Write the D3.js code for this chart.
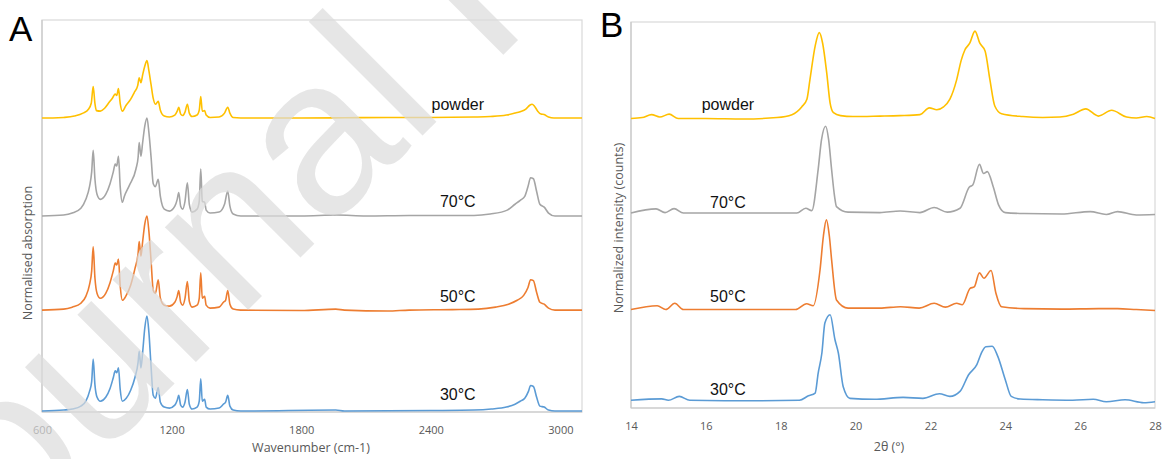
<!DOCTYPE html>
<html><head><meta charset="utf-8">
<script src="https://cdn.jsdelivr.net/npm/d3@7"></script>
<style>body{margin:0;background:#fff;overflow:hidden}</style>
</head><body><svg id="c" width="1163" height="459"></svg>
<script>
// ---------- DATA ----------
const seriesNames = ["powder", "70°C", "50°C", "30°C"];
const seriesColors = ["#FFC000", "#A5A5A5", "#ED7D31", "#5B9BD5"];

// Panel A: FTIR, [wavenumber cm-1, normalised absorption]
const offsetsA = [3, 2, 1.04, 0.01];
const ftirPowder = [[600,0],[650,0],[700,0.005],[750,0.02],[790,0.05],[815,0.09],[828,0.15],[837,0.32],[845,0.15],[852,0.075],[870,0.07],[890,0.1],[911,0.16],[928,0.21],[939,0.245],[946,0.23],[954,0.30],[962,0.15],[972,0.07],[988,0.125],[1010,0.19],[1027,0.26],[1043,0.33],[1050,0.41],[1058,0.36],[1066,0.44],[1076,0.53],[1086,0.585],[1095,0.48],[1105,0.34],[1115,0.2],[1125,0.14],[1138,0.17],[1148,0.08],[1166,0.02],[1190,0.01],[1215,0.03],[1226,0.07],[1233,0.11],[1242,0.04],[1251,0.025],[1262,0.06],[1273,0.14],[1282,0.05],[1295,0.015],[1318,0.03],[1328,0.08],[1335,0.22],[1342,0.07],[1353,0.075],[1360,0.03],[1378,0.005],[1420,0.01],[1445,0.05],[1460,0.11],[1470,0.05],[1485,0.005],[1520,0],[1800,0],[2000,0.002],[2200,0.005],[2400,0.005],[2600,0.01],[2675,0.015],[2750,0.03],[2790,0.05],[2814,0.065],[2840,0.09],[2858,0.13],[2869,0.14],[2880,0.12],[2895,0.07],[2910,0.04],[2925,0.035],[2945,0.01],[2970,0],[3100,0]];
const ftir70 = [[600,0],[700,0.01],[740,0.03],[780,0.08],[803,0.17],[820,0.3],[830,0.45],[837,0.67],[845,0.38],[855,0.22],[870,0.17],[895,0.22],[915,0.33],[930,0.45],[939,0.53],[946,0.51],[954,0.61],[962,0.3],[972,0.14],[981,0.2],[1004,0.31],[1035,0.48],[1045,0.6],[1050,0.75],[1058,0.61],[1066,0.75],[1076,0.92],[1086,1.0],[1095,0.85],[1105,0.6],[1115,0.33],[1125,0.3],[1138,0.375],[1148,0.2],[1166,0.07],[1190,0.05],[1215,0.1],[1226,0.17],[1233,0.24],[1242,0.1],[1251,0.07],[1262,0.15],[1273,0.34],[1282,0.12],[1295,0.04],[1318,0.07],[1328,0.15],[1335,0.48],[1342,0.15],[1353,0.14],[1360,0.06],[1378,0.03],[1420,0.04],[1445,0.12],[1460,0.255],[1470,0.1],[1485,0.02],[1520,0],[1800,0],[1965,0.01],[2100,0],[2300,0.005],[2600,0.005],[2675,0.02],[2754,0.06],[2790,0.12],[2814,0.16],[2835,0.2],[2850,0.3],[2862,0.39],[2875,0.38],[2890,0.25],[2905,0.12],[2925,0.09],[2945,0.03],[2975,0],[3100,0]];
const ftir50 = [[600,0],[700,0.01],[740,0.03],[780,0.07],[803,0.14],[820,0.26],[830,0.4],[837,0.645],[845,0.33],[855,0.17],[870,0.12],[895,0.17],[915,0.28],[930,0.4],[939,0.48],[946,0.46],[954,0.52],[962,0.25],[972,0.1],[990,0.15],[1010,0.25],[1030,0.42],[1045,0.58],[1050,0.70],[1058,0.55],[1066,0.7],[1076,0.88],[1086,0.96],[1095,0.8],[1105,0.5],[1115,0.2],[1125,0.17],[1138,0.31],[1148,0.12],[1166,0.05],[1190,0.04],[1215,0.08],[1226,0.14],[1233,0.2],[1242,0.08],[1251,0.05],[1262,0.12],[1273,0.29],[1282,0.09],[1295,0.03],[1318,0.05],[1328,0.12],[1335,0.38],[1342,0.12],[1353,0.14],[1360,0.05],[1378,0.02],[1420,0.03],[1440,0.08],[1450,0.1],[1460,0.2],[1470,0.06],[1485,0.01],[1520,0],[1800,-0.005],[1960,0.01],[2000,0],[2200,-0.01],[2300,0],[2500,0.005],[2620,0.01],[2700,0.03],[2760,0.06],[2800,0.1],[2830,0.15],[2850,0.23],[2862,0.31],[2875,0.3],[2890,0.18],[2905,0.08],[2925,0.06],[2945,0.02],[2975,0],[3100,0]];
const ftir30 = [[600,0],[700,0.01],[740,0.02],[780,0.05],[803,0.1],[820,0.2],[830,0.3],[837,0.53],[845,0.27],[855,0.14],[870,0.1],[895,0.14],[915,0.23],[930,0.34],[939,0.41],[946,0.39],[954,0.44],[962,0.22],[972,0.1],[990,0.13],[1010,0.21],[1030,0.34],[1045,0.5],[1050,0.61],[1058,0.44],[1066,0.6],[1076,0.85],[1086,0.97],[1095,0.8],[1105,0.45],[1115,0.16],[1125,0.13],[1138,0.24],[1148,0.09],[1166,0.04],[1190,0.03],[1215,0.06],[1226,0.11],[1233,0.16],[1242,0.06],[1251,0.04],[1262,0.09],[1273,0.22],[1282,0.07],[1295,0.02],[1318,0.04],[1328,0.1],[1335,0.33],[1342,0.1],[1353,0.12],[1360,0.04],[1378,0.02],[1420,0.03],[1440,0.07],[1450,0.09],[1460,0.16],[1470,0.05],[1485,0.01],[1520,0],[1960,0.01],[2000,0],[2400,0.005],[2600,0.01],[2680,0.02],[2750,0.04],[2790,0.07],[2814,0.1],[2835,0.13],[2852,0.2],[2862,0.26],[2875,0.25],[2890,0.14],[2905,0.05],[2925,0.04],[2945,0.01],[2975,0],[3100,0]];
const xTicksA = [600, 1200, 1800, 2400, 3000];

// Panel B: XRD, [2θ °, normalized intensity]
const offsetsB = [3, 2, 1, 0];
const xrdPowder = [[14,0],[14.3,0.01],[14.55,0.04],[14.77,0.015],[15.02,0.045],[15.26,0],[16,0],[17,-0.005],[17.9,0.01],[18.3,0.04],[18.56,0.12],[18.7,0.2],[18.78,0.40],[18.92,0.75],[19.03,0.89],[19.12,0.78],[19.23,0.47],[19.32,0.16],[19.41,0.06],[19.6,0.03],[19.93,0.02],[20.65,0.025],[21.18,0.03],[21.72,0.04],[21.97,0.11],[22.17,0.09],[22.35,0.12],[22.52,0.2],[22.7,0.4],[22.82,0.6],[22.92,0.71],[23.05,0.78],[23.19,0.905],[23.32,0.78],[23.46,0.70],[23.59,0.40],[23.72,0.13],[23.9,0.05],[24.47,0.02],[25,0.01],[25.46,0.015],[25.82,0.045],[26.15,0.1],[26.49,0.025],[26.84,0.085],[27.24,0.015],[27.5,0.005],[27.78,0.02],[28,0]];
const xrd70 = [[14,0.02],[14.67,0.063],[14.91,0.025],[15.15,0.066],[15.4,0.02],[18.43,0.02],[18.67,0.07],[18.83,0.045],[19.0,0.47],[19.09,0.78],[19.2,0.92],[19.28,0.78],[19.36,0.47],[19.44,0.19],[19.49,0.087],[19.8,0.03],[20.65,0.025],[21.19,0.042],[21.72,0.025],[22.1,0.077],[22.45,0.03],[22.79,0.07],[23.04,0.29],[23.13,0.31],[23.31,0.525],[23.42,0.43],[23.52,0.45],[23.68,0.29],[23.82,0.105],[24,0.025],[24.5,0.015],[25.5,0.01],[26.27,0.035],[26.7,0.005],[27,0.035],[27.5,0],[28,0.005]];
const xrd50 = [[14,0.02],[14.7,0.06],[14.93,0.02],[15.17,0.085],[15.4,0.02],[18.4,0.02],[18.69,0.08],[18.87,0.06],[19.05,0.43],[19.14,0.78],[19.22,0.95],[19.3,0.78],[19.36,0.535],[19.49,0.12],[19.8,0.035],[20.65,0.035],[21.2,0.05],[21.7,0.035],[22.1,0.085],[22.4,0.045],[22.7,0.085],[22.85,0.07],[23.06,0.24],[23.17,0.255],[23.31,0.40],[23.43,0.345],[23.62,0.425],[23.75,0.19],[23.9,0.05],[24.5,0.03],[25.5,0.025],[26.5,0.03],[27,0.03],[27.5,0.02],[28,0.01]];
const xrd30 = [[14,0.08],[14.82,0.095],[15,0.08],[15.29,0.12],[15.57,0.08],[16.5,0.075],[17.5,0.075],[18.5,0.08],[18.74,0.127],[18.92,0.155],[19.0,0.36],[19.1,0.57],[19.18,0.88],[19.32,0.966],[19.45,0.707],[19.54,0.57],[19.67,0.22],[19.85,0.1],[20.5,0.09],[21.27,0.11],[21.8,0.1],[22.24,0.148],[22.52,0.12],[22.79,0.172],[23.02,0.345],[23.24,0.45],[23.38,0.585],[23.48,0.635],[23.65,0.64],[23.8,0.535],[24,0.293],[24.16,0.12],[24.4,0.093],[25,0.085],[25.8,0.08],[26.35,0.09],[26.7,0.065],[27.2,0.085],[27.7,0.055],[28,0.065]];
const xTicksB = [14, 16, 18, 20, 22, 24, 26, 28];

// label anchors (data units)
const labelXA = 2525, labelYA = [3.08, 2.09, 1.12, 0.12];
const labelXB = 16.59, labelYB = [3.09, 2.07, 1.10, 0.135];

const watermarkText = "Journal Pre-proof";

// ---------- DRAW ----------
const svg = d3.select("#c");
const tickFont = "'Open Sans', 'DejaVu Sans', sans-serif";
const labelFont = "'Liberation Sans Narrow', 'Liberation Sans', Arial, sans-serif";

function panel(o) {
  const x = d3.scaleLinear().domain(o.xDomain).range([o.left, o.right]);
  const y = d3.scaleLinear().domain([0, 4]).range([o.bottom, o.top]);
  const g = svg.append("g");
  g.append("rect").attr("x", o.left).attr("y", o.top)
    .attr("width", o.right - o.left).attr("height", o.bottom - o.top)
    .attr("fill", "none").attr("stroke", "#d9d9d9").attr("stroke-width", 1.2);
  g.append("line").attr("x1", o.left).attr("x2", o.left).attr("y1", o.top).attr("y2", o.bottom)
    .attr("stroke", "#c8c8c8").attr("stroke-width", 1.2);
  g.append("line").attr("x1", o.left).attr("x2", o.right).attr("y1", o.bottom).attr("y2", o.bottom)
    .attr("stroke", "#c8c8c8").attr("stroke-width", 1.2);
  const ax = g.append("g").attr("transform", `translate(0,${o.bottom})`)
    .call(d3.axisBottom(x).tickValues(o.ticks).tickSize(0).tickPadding(o.tickPad).tickFormat(d3.format("d")));
  ax.select(".domain").remove();
  ax.selectAll("text").attr("fill", "#595959").style("font-family", tickFont).style("font-size", "11px");
  const line = d3.line().x(d => x(d[0])).curve(d3.curveMonotoneX);
  o.series.forEach((s, i) => {
    g.append("path").datum(s)
      .attr("d", line.y(d => y(d[1] + o.offsets[i])))
      .attr("fill", "none").attr("stroke", seriesColors[i]).attr("stroke-width", 1.6)
      .attr("stroke-linejoin", "round");
  });
  seriesNames.forEach((n, i) => {
    g.append("text").attr("x", x(o.labelX)).attr("y", y(o.labelY[i]))
      .attr("text-anchor", "middle").attr("fill", "#111")
      .style("font-family", labelFont).style("font-size", "16px").text(n);
  });
  g.append("text").attr("x", o.xTitleX).attr("y", o.xTitleY).attr("text-anchor", "middle")
    .attr("fill", "#595959").style("font-family", tickFont).style("font-size", "12.5px").text(o.xTitle);
  g.append("text").attr("transform", `translate(${o.yTitleX},${o.yTitleY}) rotate(-90)`)
    .attr("text-anchor", "middle").attr("fill", "#595959")
    .style("font-family", tickFont).style("font-size", "12.5px").text(o.yTitle);
  g.append("text").attr("x", o.letterX).attr("y", o.letterY).attr("fill", "#000")
    .style("font-family", "'Liberation Sans', Arial, sans-serif").style("font-size", "35px").text(o.letter);
}

panel({
  left: 42, right: 582, top: 20, bottom: 412, xDomain: [600, 3100],
  ticks: xTicksA, tickPad: 14,
  series: [ftirPowder, ftir70, ftir50, ftir30], offsets: offsetsA,
  labelX: labelXA, labelY: labelYA,
  xTitle: "Wavenumber (cm-1)", xTitleX: 311, xTitleY: 452,
  yTitle: "Normalised absorption", yTitleX: 32, yTitleY: 253,
  letter: "A", letterX: 9, letterY: 41
});
panel({
  left: 631, right: 1155, top: 22, bottom: 408, xDomain: [14, 28],
  ticks: xTicksB, tickPad: 14,
  series: [xrdPowder, xrd70, xrd50, xrd30], offsets: offsetsB,
  labelX: labelXB, labelY: labelYB,
  xTitle: "2θ (°)", xTitleX: 889, xTitleY: 451,
  yTitle: "Normalized intensity (counts)", yTitleX: 623, yTitleY: 228,
  letter: "B", letterX: 600, letterY: 37
});

// journal pre-proof watermark (semi-transparent, on top)
svg.append("text")
  .attr("transform", "translate(-68,626) rotate(-45)")
  .attr("fill", "rgb(220,220,220)").attr("fill-opacity", 0.7)
  .style("font-family", "'Liberation Sans', Arial, sans-serif").style("font-size", "222px")
  .text(watermarkText);
</script></body></html>
